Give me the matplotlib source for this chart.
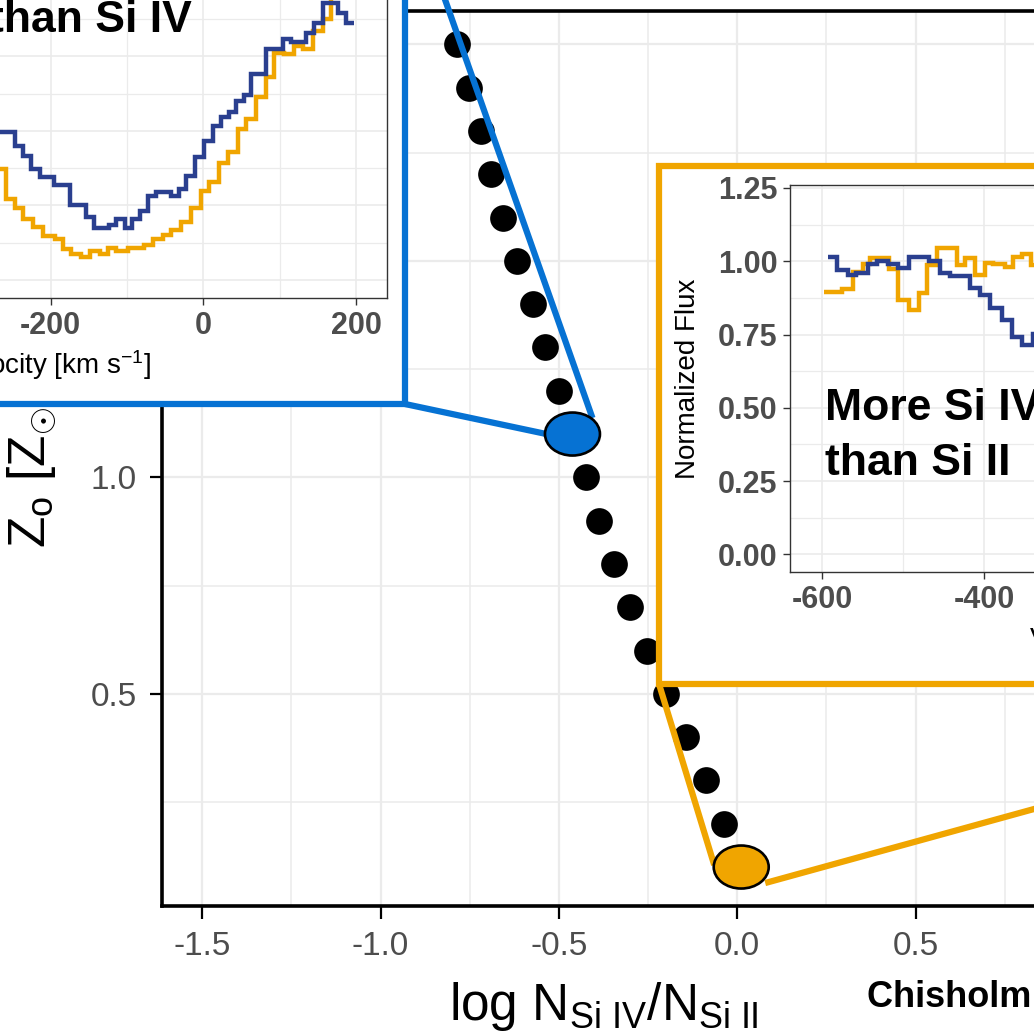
import matplotlib
matplotlib.use('Agg')
import matplotlib.pyplot as plt
from matplotlib.patches import Rectangle, Ellipse
from matplotlib.lines import Line2D
from matplotlib.ticker import MultipleLocator, FormatStrFormatter

plt.rcParams['font.family'] = ['Liberation Sans', 'DejaVu Sans']
plt.rcParams['mathtext.fontset'] = 'custom'
plt.rcParams['mathtext.rm'] = 'Liberation Sans'
plt.rcParams['mathtext.it'] = 'Liberation Sans:italic'
plt.rcParams['mathtext.bf'] = 'Liberation Sans:bold'
plt.rcParams['axes.unicode_minus'] = False

# metallicity track
z_metal = [2.0, 1.9, 1.8, 1.7, 1.6, 1.5, 1.4, 1.3, 1.2, 1.1,
           1.0, 0.9, 0.8, 0.7, 0.6, 0.5, 0.4, 0.3, 0.2, 0.1]
log_ratio = [-0.785, -0.752, -0.719, -0.690, -0.656, -0.617, -0.574, -0.538, -0.499, -0.462,
             -0.423, -0.387, -0.345, -0.300, -0.252, -0.199, -0.144, -0.089, -0.038, 0.011]
blue_pick = 1.1
orange_pick = 0.1

# spectrum shown in the blue inset (more Si II than Si IV)
b_siiv_edges = [-267, -247, -236, -225, -214, -195, -175, -153, -142.5, -123, -114, -102,
                -93, -83.5, -73, -62, -42, -31.5, -22.5, -10.5, 1.3, 12, 23, 34, 42.7, 53.6,
                62.3, 82, 103.6, 114.6, 134.2, 145, 156, 175.5, 186.5, 197.3]
b_siiv_flux = [0.497, 0.45, 0.417, 0.372, 0.345, 0.317, 0.253, 0.211, 0.175, 0.186, 0.203,
               0.175, 0.206, 0.233, 0.283, 0.295, 0.283, 0.306, 0.35, 0.411, 0.467, 0.517,
               0.545, 0.563, 0.6, 0.619, 0.692, 0.775, 0.808, 0.797, 0.828, 0.861, 0.928,
               0.894, 0.861]
b_siii_edges = [-266.6, -258.8, -247, -236.2, -223.1, -210, -194.7, -183.9, -172.9, -159.8,
                -149, -135.9, -125.1, -114.1, -98.9, -77.1, -66.3, -53.2, -42.2, -29.1,
                -16.1, -3, 7.8, 20.9, 31.8, 44.8, 55.8, 68.9, 82, 92.8, 105.9, 118.9,
                129.8, 143.8, 156, 166.9, 177.8]
b_siii_flux = [0.372, 0.272, 0.241, 0.206, 0.178, 0.148, 0.139, 0.103, 0.086, 0.078, 0.097,
               0.089, 0.106, 0.098, 0.106, 0.119, 0.137, 0.15, 0.169, 0.195, 0.241, 0.3,
               0.33, 0.392, 0.428, 0.506, 0.539, 0.615, 0.681, 0.761, 0.756, 0.783, 0.775,
               0.833, 0.875, 0.97]

# spectrum shown in the orange inset (more Si IV than Si II)
o_siiv_edges = [-593.5, -582.5, -568.2, -558, -543.7, -532.7, -519.2, -507, -492.7, -468.2,
                -455.2, -442.9, -417.2, -405, -392.7, -378.5, -366.2, -353.2, -339.7, -327]
o_siiv_flux = [1.015, 0.969, 0.952, 0.96, 0.991, 1.0, 0.991, 0.978, 1.015, 1.0, 0.96, 0.949,
               0.908, 0.886, 0.842, 0.798, 0.742, 0.715, 0.753]
o_siii_edges = [-598, -576.3, -562, -549.8, -541.7, -517.2, -507, -493.5, -480.5, -470.3,
                -458, -433.5, -423.3, -411.1, -399.7, -388.7, -374.4, -364.2, -353.2,
                -341.7, -329.5]
o_siii_flux = [0.895, 0.905, 0.963, 0.991, 1.011, 0.975, 0.869, 0.834, 0.892, 0.986, 1.046,
               0.986, 1.011, 0.952, 0.994, 0.991, 0.982, 1.013, 1.024, 0.986]

BLUE = '#0672D3'
ORANGE = '#F0A500'
NAVY = '#2A3F8F'
GRID = '#EBEBEB'

W = H = 1034
fig = plt.figure(figsize=(10.34, 10.34), dpi=100)
fig.patch.set_facecolor('white')


def box(l, t, r, b):
    return [l / W, 1 - b / H, (r - l) / W, (b - t) / H]


# main panel
ax = fig.add_axes(box(162, 11, 1045, 906))
ax.set_xlim(-1.6125, 0.8625)
ax.set_ylim(0.010, 2.077)
ax.xaxis.set_major_locator(MultipleLocator(0.5))
ax.xaxis.set_minor_locator(MultipleLocator(0.25))
ax.yaxis.set_major_locator(MultipleLocator(0.5))
ax.yaxis.set_minor_locator(MultipleLocator(0.25))
ax.xaxis.set_major_formatter(FormatStrFormatter('%.1f'))
ax.yaxis.set_major_formatter(FormatStrFormatter('%.1f'))
ax.grid(which='major', color=GRID, lw=1.6)
ax.grid(which='minor', color=GRID, lw=1.1)
ax.set_axisbelow(True)
ax.tick_params(which='major', length=9, width=1.6, color='black',
               labelsize=24, labelcolor='#4D4D4D', pad=9)
ax.tick_params(which='minor', length=0)
for s in ax.spines.values():
    s.set_linewidth(2.6)
    s.set_color('black')

ax.set_xlabel(r'$\mathrm{log\ N_{Si\ IV}/N_{Si\ II}}$', fontsize=37)
ax.xaxis.set_label_coords(0.5, -114 / 895)
ax.xaxis.label.set_va('baseline')
ax.set_ylabel(r'$\mathrm{Z_{o}\ [Z_{\odot}]}$', fontsize=37)
ax.yaxis.set_label_coords((32 - 162) / 883, 0.487)
ax.yaxis.label.set_va('center')

ax.scatter(log_ratio, z_metal, s=370, color='black', zorder=3, linewidths=0)

# inset frames
BLUE_AX = (-286, -96, 387, 298)
BLUE_BOX = (-417, -114, 405, 404)
ORANGE_AX = (790, 185, 1470, 572)
ORANGE_BOX = (659, 166, 1488, 684)

for (l, t, r, b), col in [(BLUE_BOX, BLUE), (ORANGE_BOX, ORANGE)]:
    fig.add_artist(Rectangle((l / W, 1 - b / H), (r - l) / W, (b - t) / H,
                             transform=fig.transFigure, facecolor='white',
                             edgecolor=col, lw=4.5, zorder=1, joinstyle='miter'))


def img_px(x, y):
    dx, dy = ax.transData.transform((x, y))
    return dx, H - dy


def connector(p0, p1, col):
    ax.add_line(Line2D([p0[0] / W, p1[0] / W], [1 - p0[1] / H, 1 - p1[1] / H],
                       transform=fig.transFigure, color=col, lw=4.5,
                       zorder=4, clip_on=False, solid_capstyle='butt'))


ib = z_metal.index(blue_pick)
io = z_metal.index(orange_pick)
bx, by = img_px(log_ratio[ib], z_metal[ib])
ox, oy = img_px(log_ratio[io], z_metal[io])

connector((BLUE_BOX[2], BLUE_BOX[3]), (bx - 26, by), BLUE)
connector((BLUE_BOX[2], BLUE_BOX[1]), (bx + 20, by - 16), BLUE)
connector((ORANGE_BOX[0], ORANGE_BOX[3]), (ox - 27, oy - 2), ORANGE)
connector((ORANGE_BOX[2], ORANGE_BOX[3]), (ox + 24, oy + 16), ORANGE)

for i, col in [(ib, BLUE), (io, ORANGE)]:
    ax.add_patch(Ellipse((log_ratio[i], z_metal[i]), 55 / 356.8, 43 / 433,
                         facecolor=col, edgecolor='black', lw=1.9, zorder=5,
                         clip_on=False))


def style_inset(a, xmax):
    w_px = a.get_position().width * W
    h_px = a.get_position().height * H
    a.set_xlim(-640, xmax)
    a.set_ylim(-0.06, 1.26)
    a.xaxis.set_major_locator(MultipleLocator(200))
    a.xaxis.set_minor_locator(MultipleLocator(100))
    a.yaxis.set_major_locator(MultipleLocator(0.25))
    a.yaxis.set_minor_locator(MultipleLocator(0.125))
    a.yaxis.set_major_formatter(FormatStrFormatter('%.2f'))
    a.xaxis.set_major_formatter(FormatStrFormatter('%d'))
    a.grid(which='major', color=GRID, lw=1.2)
    a.grid(which='minor', color=GRID, lw=0.9)
    a.set_axisbelow(True)
    a.tick_params(which='major', length=5, width=1, color='#333333',
                  labelsize=22, labelcolor='#4D4D4D', pad=4)
    a.tick_params(which='minor', length=0)
    for lab in a.get_xticklabels() + a.get_yticklabels():
        lab.set_fontweight('bold')
    for s in a.spines.values():
        s.set_linewidth(1.0)
        s.set_color('#333333')
    a.set_ylabel('Normalized Flux', fontsize=20)
    a.yaxis.set_label_coords(-102 / w_px, 0.5)
    a.yaxis.label.set_va('center')
    a.set_xlabel(r'Velocity [km s$^{-1}$]', fontsize=20)
    a.xaxis.set_label_coords(0.5, -76 / h_px)
    a.xaxis.label.set_va('baseline')


ax_b = fig.add_axes(box(*BLUE_AX), zorder=2)
style_inset(ax_b, 240)
ax_b.stairs(b_siii_flux, b_siii_edges, baseline=None, color=ORANGE, lw=3.2)
ax_b.stairs(b_siiv_flux, b_siiv_edges, baseline=None, color=NAVY, lw=3.2)
ax_b.text(-280, 1.015, 'More Si II', fontsize=32, fontweight='bold', va='baseline')
ax_b.text(-280, 0.832, 'than Si IV', fontsize=32, fontweight='bold', va='baseline')

ax_o = fig.add_axes(box(*ORANGE_AX), zorder=2)
style_inset(ax_o, 200)
ax_o.stairs(o_siii_flux, o_siii_edges, baseline=None, color=ORANGE, lw=3.2)
ax_o.stairs(o_siiv_flux, o_siiv_edges, baseline=None, color=NAVY, lw=3.2)
ax_o.text(-597, 0.458, 'More Si IV', fontsize=32, fontweight='bold', va='baseline')
ax_o.text(-597, 0.270, 'than Si II', fontsize=32, fontweight='bold', va='baseline')

fig.text(867 / W, 1 - 1007 / H, 'Chisholm et al. 2016', fontsize=26,
         fontweight='bold', va='baseline', ha='left')

fig.savefig('out.png', dpi=100, facecolor='white')
